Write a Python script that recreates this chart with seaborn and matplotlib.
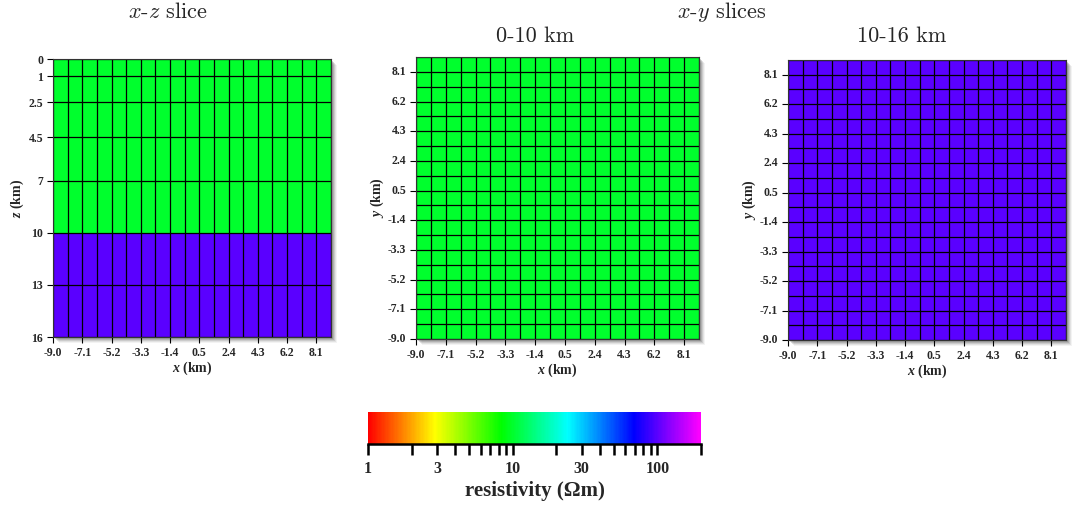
import numpy as np
import matplotlib
matplotlib.use("Agg")
import matplotlib.pyplot as plt
import matplotlib.colors as mcolors
from matplotlib.patches import Rectangle
import seaborn as sns

# ---- model data -------------------------------------------------------
x_edges = [-9.0, -8.05, -7.1, -6.15, -5.2, -4.25, -3.3, -2.35, -1.4, -0.45,
           0.5, 1.45, 2.4, 3.35, 4.3, 5.25, 6.2, 7.15, 8.1, 9.05]
y_edges = list(x_edges)
z_edges = [0, 1, 2.5, 4.5, 7, 10, 13, 16]
xz_layer_rho = [10, 10, 10, 10, 10, 100, 100]       # resistivity per depth layer (Ohm m)
slice_titles = ["0-10 km", "10-16 km"]
slice_rho = [10, 100]                                # resistivity in each x-y slice
cbar_major = [1, 3, 10, 30, 100]
cbar_minor = [2, 4, 5, 6, 7, 8, 9, 20, 40, 50, 60, 70, 80, 90, 200]
rho_min, rho_max = 1, 200

# ---- style -------------------------------------------------------------
sns.set_theme(style="ticks")
plt.rcParams["font.family"] = ["Liberation Serif", "DejaVu Serif"]
plt.rcParams["mathtext.fontset"] = "custom"
plt.rcParams["mathtext.it"] = "Liberation Serif:italic:bold"
plt.rcParams["mathtext.rm"] = "Liberation Serif:bold"
plt.rcParams["mathtext.bf"] = "Liberation Serif:bold"

# rainbow from red (hue 0) to magenta (hue 300 deg)
hues = np.linspace(0, 5 / 6, 256)
rgb = mcolors.hsv_to_rgb(np.stack([hues, np.ones_like(hues), np.ones_like(hues)], axis=1))
cmap = mcolors.ListedColormap(rgb, name="rainbow_rho")
norm = mcolors.LogNorm(vmin=rho_min, vmax=rho_max)

W, H = 1073, 508
fig = plt.figure(figsize=(W / 100, H / 100), dpi=100)


def px_axes(x0, y0, w, h):
    """Axes placed by pixel box (top-left origin)."""
    return fig.add_axes([x0 / W, (H - y0 - h) / H, w / W, h / H])


def drop_shadow(x0, y0, w, h):
    for off, a in [(6, 0.07), (5, 0.10), (4, 0.16), (3, 0.22), (2, 0.25)]:
        fig.patches.append(Rectangle(((x0 + off) / W, (H - y0 - h - off) / H), w / W, h / H,
                                     transform=fig.transFigure, facecolor="#555555",
                                     edgecolor="none", alpha=a, zorder=-1))


tick_font = dict(fontsize=8.5, fontweight="bold")
label_font = dict(fontsize=10, fontweight="bold")
grid_kw = dict(colors="black", linewidth=0.9, zorder=2)


def style_axes(ax):
    ax.tick_params(axis="both", which="both", direction="out", length=4, width=0.8,
                   color="black", pad=3, left=True, bottom=True, top=False, right=False)
    for s in ax.spines.values():
        s.set_visible(True)
        s.set_linewidth(0.8)
        s.set_color("#333333")
        s.set_zorder(3)


# ---- x-z slice ---------------------------------------------------------
box = (53, 59, 278, 278)
drop_shadow(*box)
ax0 = px_axes(*box)
xz = np.array(xz_layer_rho, dtype=float)[:, None] * np.ones((1, len(x_edges) - 1))
ax0.pcolormesh(x_edges, z_edges, xz, cmap=cmap, norm=norm, linewidth=0)
ax0.vlines(x_edges, z_edges[0], z_edges[-1], **grid_kw)
ax0.hlines(z_edges, x_edges[0], x_edges[-1], **grid_kw)
ax0.set_xlim(x_edges[0], x_edges[-1])
ax0.set_ylim(z_edges[-1], z_edges[0])
ax0.set_xticks(x_edges[:-1:2])
ax0.set_xticklabels([f"{v:.1f}" for v in x_edges[:-1:2]], **tick_font)
ax0.set_yticks(z_edges)
ax0.set_yticklabels([f"{v:g}" for v in z_edges], **tick_font)
ax0.set_xlabel(r"$x$ (km)", labelpad=1, **label_font)
ax0.set_ylabel(r"$z$ (km)", labelpad=2, **label_font)
style_axes(ax0)

# ---- x-y slices --------------------------------------------------------
n = len(x_edges) - 1
boxes = [(416, 57, 283, 282), (788, 60, 278, 280)]
for box, rho in zip(boxes, slice_rho):
    drop_shadow(*box)
    ax = px_axes(*box)
    grid = np.full((n, n), float(rho))
    sns.heatmap(grid, ax=ax, cmap=cmap, norm=norm, cbar=False, linewidths=0)
    ax.vlines(range(n + 1), 0, n, **grid_kw)
    ax.hlines(range(n + 1), 0, n, **grid_kw)
    ax.set_xlim(0, n)
    ax.set_ylim(n, 0)
    ax.set_xticks(list(range(0, n, 2)))
    ax.set_xticklabels([f"{v:.1f}" for v in x_edges[:-1:2]], rotation=0, **tick_font)
    ypos = [n - i for i in range(0, n, 2)]
    ax.set_yticks(ypos)
    ax.set_yticklabels([f"{v:.1f}" for v in y_edges[:-1:2]], rotation=0, **tick_font)
    ax.set_xlabel(r"$x$ (km)", labelpad=1, **label_font)
    ax.set_ylabel(r"$y$ (km)", labelpad=1, **label_font)
    style_axes(ax)

# ---- titles ------------------------------------------------------------
title_kw = dict(fontsize=16, family="cmr10", math_fontfamily="cm",
                ha="center", va="center")
fig.text(168 / W, 1 - 12 / H, r"$x$-$z$ slice", **title_kw)
fig.text(722 / W, 1 - 12 / H, r"$x$-$y$ slices", **title_kw)
fig.text(535 / W, 1 - 36 / H, slice_titles[0], **title_kw)
fig.text(902 / W, 1 - 36 / H, slice_titles[1], **title_kw)

# ---- colour bar --------------------------------------------------------
cax = px_axes(368, 412, 333, 32)
sm = matplotlib.cm.ScalarMappable(norm=norm, cmap=cmap)
cb = fig.colorbar(sm, cax=cax, orientation="horizontal")
cb.outline.set_visible(False)
cax.set_xticks(cbar_major)
cax.set_xticklabels([str(v) for v in cbar_major], fontsize=11.5, fontweight="bold")
cax.set_xticks(cbar_minor, minor=True)
cax.tick_params(axis="x", which="both", direction="out", length=8, width=1.8,
                color="black", pad=4)
cax.spines["bottom"].set_visible(True)
cax.spines["bottom"].set_linewidth(1.8)
cax.spines["bottom"].set_color("black")
cax.set_xlabel("resistivity (Ωm)", fontsize=15, fontweight="bold", labelpad=3)

fig.savefig("out.png", dpi=100)
